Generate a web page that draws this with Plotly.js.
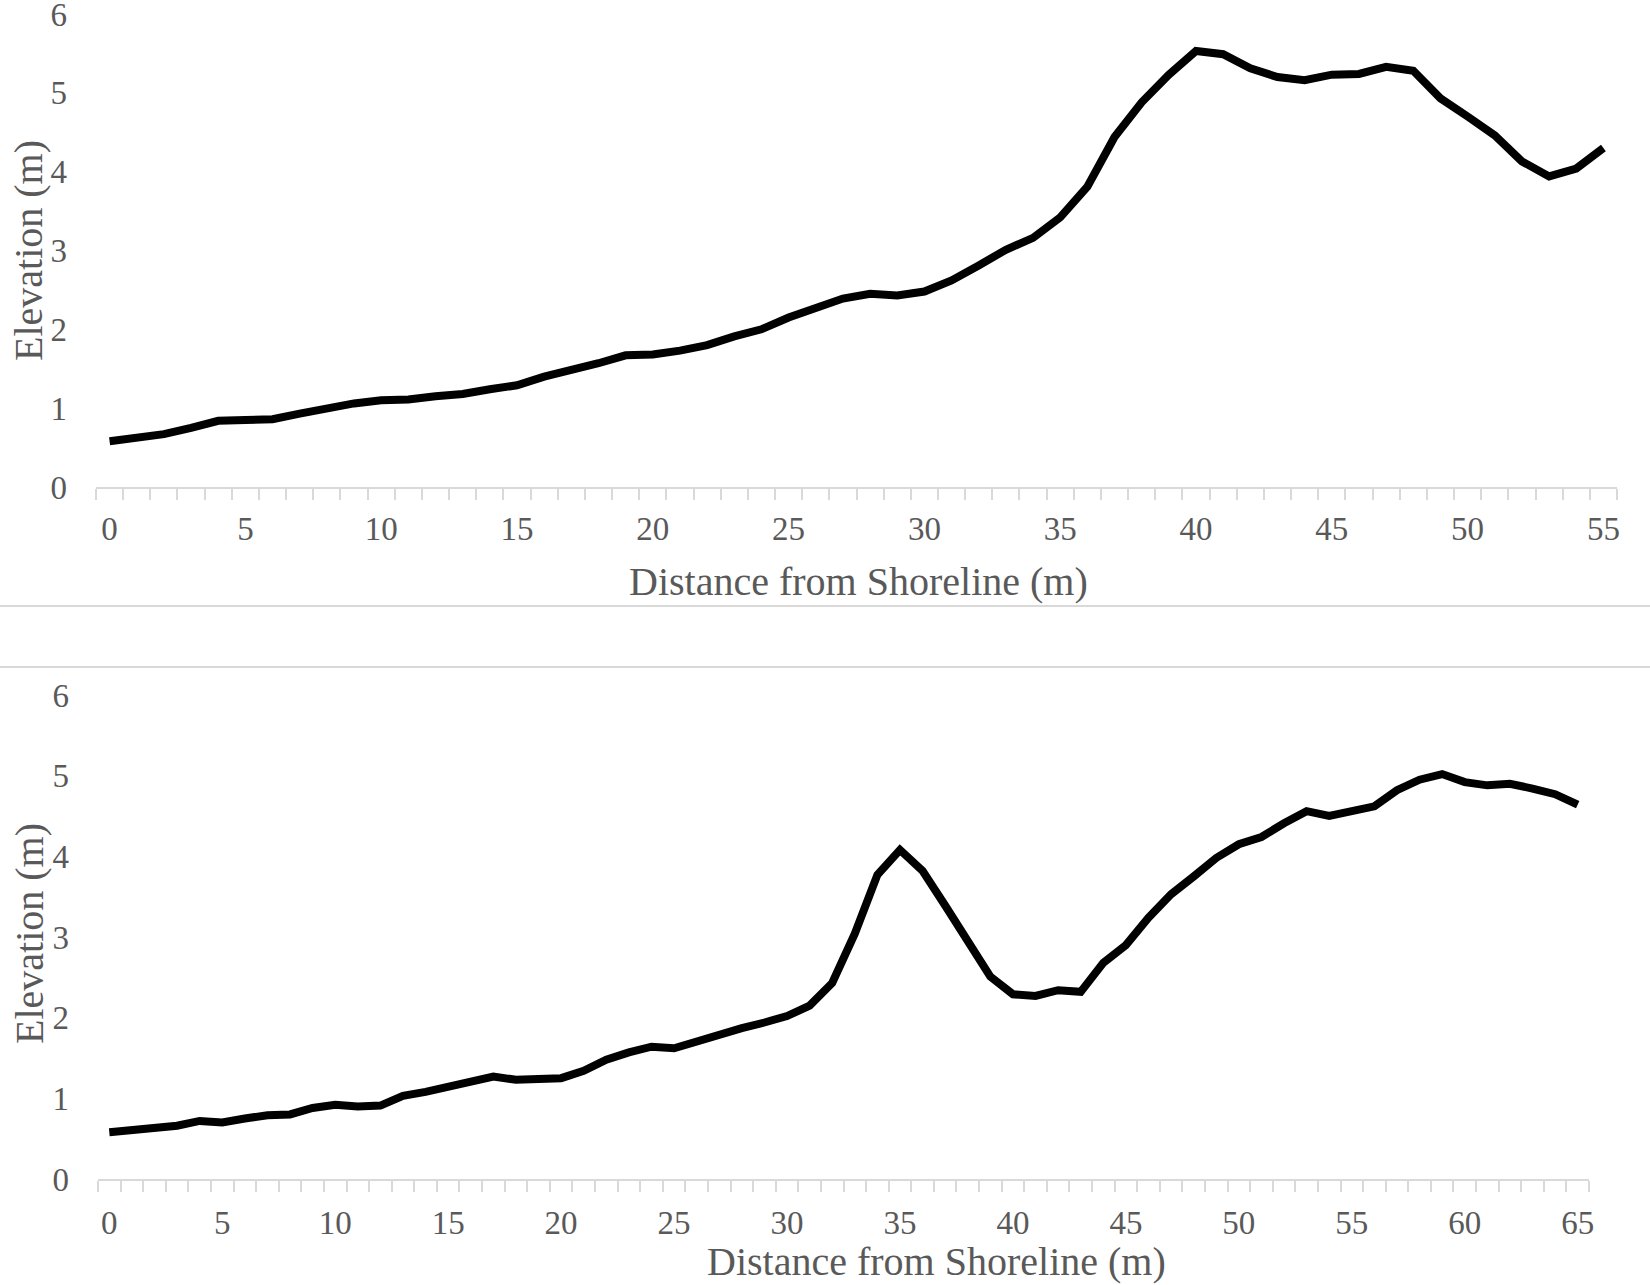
<!DOCTYPE html>
<html>
<head>
<meta charset="utf-8">
<script src="https://cdn.plot.ly/plotly-3.0.1.min.js"></script>
<style>
  html, body { margin: 0; padding: 0; background: #fff; }
  #chart { width: 1650px; height: 1285px; }
</style>
</head>
<body>
<div id="chart"></div>
<script>
"use strict";

// profile 1: distance from shoreline (m) and elevation (m)
var distTop = [0, 1, 2, 3, 4, 5, 6, 7, 8, 9, 10, 11, 12, 13, 14, 15, 16, 17, 18, 19,
    20, 21, 22, 23, 24, 25, 26, 27, 28, 29, 30, 31, 32, 33, 34, 35, 36, 37, 38, 39,
    40, 41, 42, 43, 44, 45, 46, 47, 48, 49, 50, 51, 52, 53, 54, 55];
var elevTop = [0.58, 0.62, 0.67, 0.75, 0.84, 0.85, 0.86, 0.93, 1.00, 1.06,
    1.10, 1.11, 1.15, 1.18, 1.24, 1.29, 1.40, 1.48, 1.57, 1.67,
    1.68, 1.73, 1.80, 1.91, 2.00, 2.15, 2.28, 2.39, 2.45, 2.43,
    2.48, 2.62, 2.81, 3.01, 3.16, 3.42, 3.81, 4.44, 4.88, 5.23,
    5.53, 5.49, 5.31, 5.20, 5.16, 5.23, 5.24, 5.33, 5.28, 4.93,
    4.70, 4.46, 4.13, 3.94, 4.04, 4.30];

// profile 2
var distBottom = [0, 1, 2, 3, 4, 5, 6, 7, 8, 9, 10, 11, 12, 13, 14, 15, 16, 17, 18, 19,
    20, 21, 22, 23, 24, 25, 26, 27, 28, 29, 30, 31, 32, 33, 34, 35, 36, 37, 38, 39,
    40, 41, 42, 43, 44, 45, 46, 47, 48, 49, 50, 51, 52, 53, 54, 55, 56, 57, 58, 59,
    60, 61, 62, 63, 64, 65];
var elevBottom = [0.58, 0.60, 0.64, 0.66, 0.72, 0.70, 0.75, 0.79, 0.80, 0.88,
    0.92, 0.90, 0.91, 1.03, 1.08, 1.14, 1.19, 1.27, 1.23, 1.25,
    1.25, 1.34, 1.48, 1.57, 1.64, 1.62, 1.71, 1.78, 1.87, 1.94,
    2.02, 2.15, 2.43, 3.04, 3.77, 4.08, 3.82, 3.39, 2.94, 2.51,
    2.29, 2.27, 2.34, 2.32, 2.68, 2.90, 3.24, 3.53, 3.75, 3.98,
    4.15, 4.24, 4.41, 4.56, 4.50, 4.56, 4.62, 4.82, 4.95, 5.02,
    4.92, 4.88, 4.90, 4.84, 4.77, 4.64];

var xTicksTop = [0, 5, 10, 15, 20, 25, 30, 35, 40, 45, 50, 55];
var xTicksBottom = [0, 5, 10, 15, 20, 25, 30, 35, 40, 45, 50, 55, 60, 65];
var yTicks = [0, 1, 2, 3, 4, 5, 6];

var xTitle = 'Distance from Shoreline (m)';
var yTitle = 'Elevation (m)';

var W = 1650, H = 1285;
var FONT = '"Liberation Serif", "Times New Roman", serif';
var TEXT = '#595959';
var RULE = '#d9d9d9';

function px(x) { return x / W; }
function py(y) { return 1 - y / H; }

function xAxis(ticks, max, left, right, anchor, standoff) {
    return {
        domain: [px(left), px(right)],
        anchor: anchor,
        range: [-0.5, max + 0.5],
        tickmode: 'array',
        tickvals: ticks,
        ticks: '',
        ticklabelstandoff: standoff,
        showline: true,
        linecolor: RULE,
        linewidth: 2,
        showgrid: false,
        zeroline: false,
        minor: {
            tick0: 0.5,
            dtick: 1,
            ticks: 'outside',
            ticklen: 11,
            tickwidth: 2,
            tickcolor: RULE,
            showgrid: false
        },
        tickfont: { family: FONT, size: 33, color: TEXT },
        fixedrange: true
    };
}

function yAxis(top, bottom, anchor) {
    return {
        domain: [py(bottom), py(top)],
        anchor: anchor,
        range: [0, 6],
        tickmode: 'array',
        tickvals: yTicks,
        ticks: '',
        ticklabelstandoff: 28,
        ticklabeloverflow: 'allow',
        showline: false,
        showgrid: false,
        zeroline: false,
        tickfont: { family: FONT, size: 33, color: TEXT },
        fixedrange: true
    };
}

function titleNote(text, x, y, angle) {
    return {
        text: text,
        xref: 'paper', yref: 'paper',
        x: px(x), y: py(y),
        xanchor: 'center', yanchor: 'middle',
        textangle: angle,
        showarrow: false,
        font: { family: FONT, size: 40, color: TEXT }
    };
}

function borderLine(y) {
    return {
        type: 'line', xref: 'paper', yref: 'paper',
        x0: 0, x1: 1, y0: py(y), y1: py(y),
        line: { color: RULE, width: 2 }
    };
}

var traces = [
    {
        x: distTop, y: elevTop,
        xaxis: 'x', yaxis: 'y',
        type: 'scatter', mode: 'lines',
        line: { color: '#000000', width: 8 },
        hoverinfo: 'x+y'
    },
    {
        x: distBottom, y: elevBottom,
        xaxis: 'x2', yaxis: 'y2',
        type: 'scatter', mode: 'lines',
        line: { color: '#000000', width: 8 },
        hoverinfo: 'x+y'
    }
];

var layout = {
    width: W,
    height: H,
    margin: { l: 0, r: 0, t: 0, b: 0 },
    paper_bgcolor: '#ffffff',
    plot_bgcolor: '#ffffff',
    showlegend: false,
    xaxis: xAxis(xTicksTop, 55, 96, 1617, 'y', 11),
    yaxis: yAxis(14, 487, 'x'),
    xaxis2: xAxis(xTicksBottom, 65, 98, 1589, 'y2', 13),
    yaxis2: yAxis(695, 1179, 'x2'),
    shapes: [borderLine(606), borderLine(667)],
    annotations: [
        titleNote(xTitle, 858, 582, 0),
        titleNote(yTitle, 29, 251, -90),
        titleNote(xTitle, 936, 1261, 0),
        titleNote(yTitle, 29, 934, -90)
    ]
};

Plotly.newPlot('chart', traces, layout, { displayModeBar: false, staticPlot: true });
</script>
</body>
</html>
